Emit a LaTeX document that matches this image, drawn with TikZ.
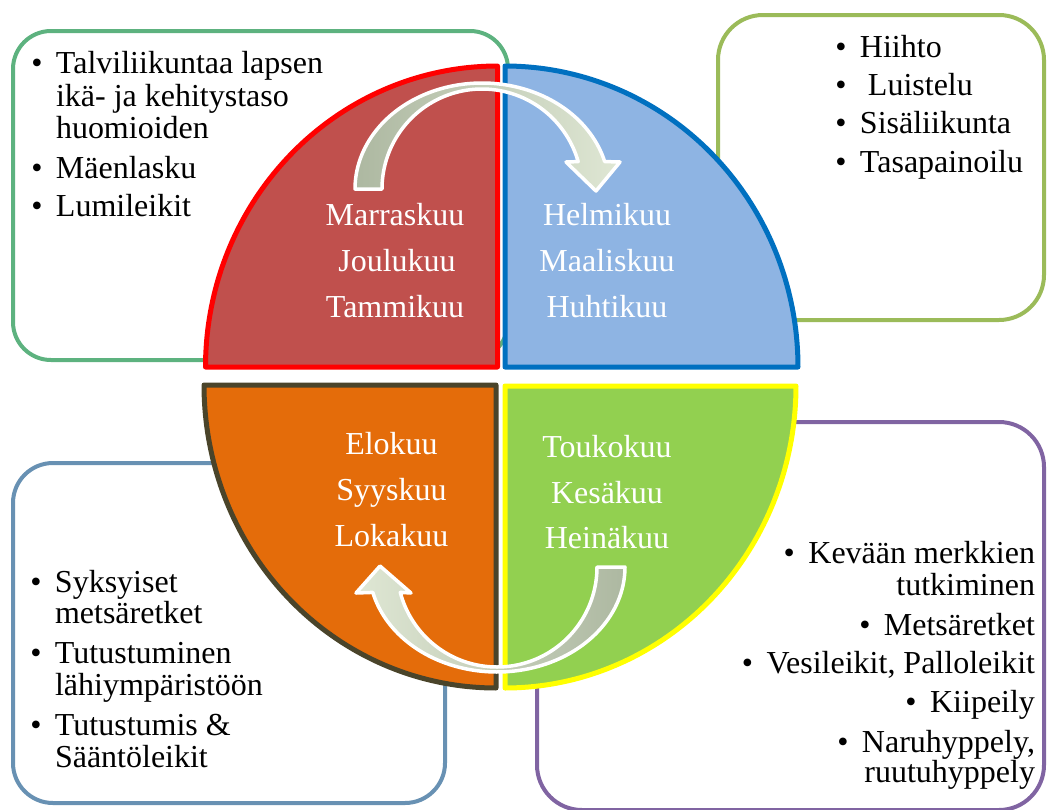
\documentclass[tikz,border=0pt]{standalone}
\usepackage{fontspec}
\setmainfont{Liberation Serif}
\definecolor{boxTL}{HTML}{5DB27F}
\definecolor{boxTR}{HTML}{9BBB59}
\definecolor{boxBL}{HTML}{6891B3}
\definecolor{boxBR}{HTML}{8064A2}
\definecolor{redFill}{HTML}{C0504D}
\definecolor{redLine}{HTML}{FF0000}
\definecolor{blueFill}{HTML}{8EB4E3}
\definecolor{blueLine}{HTML}{0070C0}
\definecolor{orFill}{HTML}{E46C0A}
\definecolor{orLine}{HTML}{4A442A}
\definecolor{grFill}{HTML}{92D050}
\definecolor{grLine}{HTML}{FFFF00}
\definecolor{arrDark}{HTML}{ADB8A1}
\definecolor{arrLight}{HTML}{DFE7D4}
\newcommand\mybul{\llap{•\hspace{13.5pt}}}
\begin{document}
\begin{tikzpicture}[x=1pt,y=-1pt,
  infobox/.style={line width=4pt},
  quarter/.style={line width=5pt, line join=round},
  cyclearrow/.style={draw=white, line width=3.5pt, line join=round},
  txt/.style={inner sep=0pt, outer sep=0pt, font=\fontsize{32}{33}\selectfont},
  lline/.style={txt, anchor=base west},
  rline/.style={txt, anchor=base east},
  month/.style={txt, text=white, anchor=base}]
\useasboundingbox (0,0) rectangle (1047,809);
% background boxes
\draw[infobox, draw=boxTL, rounded corners=38pt] (13,31) rectangle (508,360);
\draw[infobox, draw=boxTR, rounded corners=45pt] (718,15) rectangle (1044,320);
\draw[infobox, draw=boxBL, rounded corners=40pt] (13,463) rectangle (445,803);
\draw[infobox, draw=boxBR, rounded corners=45pt] (537,422) rectangle (1044,810);
% quarters
\draw[quarter, draw=redLine, fill=redFill] (497.5,367) -- plot[domain=180:90, samples=80] ({497.5+292*cos(\x)},{367-301*sin(\x)}) -- cycle;
\draw[quarter, draw=blueLine, fill=blueFill] (505,367) -- plot[domain=90:0, samples=80] ({505+293*cos(\x)},{367-301*sin(\x)}) -- cycle;
\draw[quarter, draw=orLine, fill=orFill] (496,385) -- plot[domain=180:270, samples=80] ({496+292*cos(\x)},{385-303*sin(\x)}) -- cycle;
\draw[quarter, draw=grLine, fill=grFill] (505,386) -- plot[domain=270:360, samples=80] ({505+291*cos(\x)},{386-302*sin(\x)}) -- cycle;
% cycle arrows
\path[cyclearrow, left color=arrDark, right color=arrLight]
  plot[domain=180:15, samples=80] ({482+127*cos(\x)},{189-106*sin(\x)})
  -- (620,162) -- (596,191) -- (566,162)
  -- plot[domain=15.9:180, samples=80] ({482+100*cos(\x)},{189-100*sin(\x)}) -- cycle;
\path[cyclearrow, left color=arrLight, right color=arrDark]
  plot[domain=0:-166, samples=80] ({497+128*cos(\x)},{567-105*sin(\x)})
  -- (356,593) -- (380,566) -- (411,593)
  -- plot[domain=-165.3:0, samples=80] ({497+100*cos(\x)},{567-100*sin(\x)}) -- cycle;
% month labels
\node[month] (m11) at (395,225) {Marraskuu};
\node[month] (m12) at (397,271) {Joulukuu};
\node[month] (m1) at (395,317) {Tammikuu};
\node[month] (m2) at (607,225) {Helmikuu};
\node[month] (m3) at (607,271) {Maaliskuu};
\node[month] (m4) at (607,317) {Huhtikuu};
\node[month] (m8) at (391.5,454) {Elokuu};
\node[month] (m9) at (391.5,500) {Syyskuu};
\node[month] (m10) at (391.5,546) {Lokakuu};
\node[month] (m5) at (607,457) {Toukokuu};
\node[month] (m6) at (607,503) {Kesäkuu};
\node[month] (m7) at (607,548) {Heinäkuu};
% top-left box text
\node[lline] (tl1) at (56,73) {\mybul Talviliikuntaa lapsen};
\node[lline] (tl2) at (56,106) {ikä- ja kehitystaso};
\node[lline] (tl3) at (56,138) {huomioiden};
\node[lline] (tl4) at (56,178) {\mybul Mäenlasku};
\node[lline] (tl5) at (56,216) {\mybul Lumileikit};
% top-right box text
\node[lline] (tr1) at (860,57) {\mybul Hiihto};
\node[lline] (tr2) at (860,95) {\mybul\hspace*{8pt}Luistelu};
\node[lline] (tr3) at (860,133) {\mybul Sisäliikunta};
\node[lline] (tr4) at (860,172) {\mybul Tasapainoilu};
% bottom-left box text
\node[lline] (bl1) at (55,592) {\mybul Syksyiset};
\node[lline] (bl2) at (55,623) {metsäretket};
\node[lline] (bl3) at (55,663) {\mybul Tutustuminen};
\node[lline] (bl4) at (55,695) {lähiympäristöön};
\node[lline] (bl5) at (55,735) {\mybul Tutustumis \&};
\node[lline] (bl6) at (55,767) {Sääntöleikit};
% bottom-right box text
\node[rline] (br1) at (1035,563) {\mybul Kevään merkkien};
\node[rline] (br2) at (1035,595) {tutkiminen};
\node[rline] (br3) at (1035,635) {\mybul Metsäretket};
\node[rline] (br4) at (1035,673) {\mybul Vesileikit, Palloleikit};
\node[rline] (br5) at (1035,712) {\mybul Kiipeily};
\node[rline] (br6) at (1035,752) {\mybul Naruhyppely,};
\node[rline] (br7) at (1035,782) {ruutuhyppely};
\end{tikzpicture}
\end{document}
